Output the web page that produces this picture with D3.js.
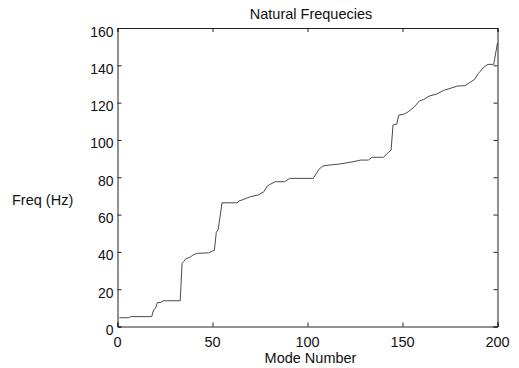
<!DOCTYPE html>
<html>
<head>
<meta charset="utf-8">
<script src="https://cdn.jsdelivr.net/npm/d3@7"></script>
<style>
  body { margin: 0; background: #fff; }
  text { font-family: "Liberation Sans", Arial, sans-serif; fill: #111; }
</style>
</head>
<body>
<svg id="chart"></svg>
<script>
// mode number breakpoints and frequency
const modes = [1, 6, 7, 18, 19, 20, 21, 23, 24, 33, 34, 35, 36, 38, 40, 42, 48, 50, 51, 52, 53, 55,
  63, 64, 66, 70, 74, 77, 79, 80, 83, 88, 90, 91, 103, 106, 108, 112, 117, 124, 128, 132, 134,
  140, 142, 144, 145, 147, 148, 151, 153, 156, 159, 161, 164, 168, 172, 175, 179, 183, 186,
  188, 190, 193, 195, 198, 200];
const freqs = [4.7, 4.7, 5.3, 5.3, 9.0, 9.7, 12.8, 13.0, 13.8, 13.8, 33.9, 35.0, 36.4, 37.0, 38.5,
  39.2, 39.5, 40.5, 40.8, 50.5, 52.0, 66.3, 66.3, 67.3, 68.0, 69.6, 70.5, 72.2, 75.5, 76.0, 77.6,
  77.6, 79.0, 79.4, 79.4, 84.2, 86.0, 86.6, 87.1, 88.3, 89.2, 89.2, 90.7, 90.7, 92.8, 94.6, 108,
  108.5, 113.3, 113.9, 115.1, 117.5, 121, 121.6, 123.5, 124.6, 126.7, 127.6, 128.9, 129.1, 131.2,
  132.5, 135.7, 139.2, 140.5, 140.5, 152];
const xTicks = [0, 50, 100, 150, 200];
const yTicks = [0, 20, 40, 60, 80, 100, 120, 140, 160];

const W = 519, H = 368;
const pL = 117.5, pR = 497.5, pT = 28, pB = 326.5;

const svg = d3.select("#chart").attr("width", W).attr("height", H);

const x = d3.scaleLinear().domain([0, 200]).range([pL, pR]);
const y = d3.scaleLinear().domain([0, 160]).range([pB, pT]);

// curve
const data = modes.map((m, i) => [m, freqs[i]]);
svg.append("path")
  .datum(data)
  .attr("fill", "none")
  .attr("stroke", "#4a4a4a")
  .attr("stroke-width", 1)
  .attr("d", d3.line().x(d => x(d[0])).y(d => y(d[1])));

// box + inward ticks on all four sides
const tick = 4;
svg.append("g").attr("transform", `translate(0,${pB})`)
  .call(d3.axisBottom(x).tickValues(xTicks).tickSize(-tick).tickFormat(""));
svg.append("g").attr("transform", `translate(0,${pT})`)
  .call(d3.axisTop(x).tickValues(xTicks).tickSize(-tick).tickFormat(""));
svg.append("g").attr("transform", `translate(${pL},0)`)
  .call(d3.axisLeft(y).tickValues(yTicks).tickSize(-tick).tickFormat(""));
svg.append("g").attr("transform", `translate(${pR},0)`)
  .call(d3.axisRight(y).tickValues(yTicks).tickSize(-tick).tickFormat(""));
svg.selectAll(".domain").attr("stroke", "#222");
svg.selectAll(".tick line").attr("stroke", "#222");

// tick labels
svg.append("g").selectAll("text")
  .data(xTicks)
  .join("text")
  .attr("x", d => x(d))
  .attr("y", pB + 20.5)
  .attr("text-anchor", "middle")
  .style("font-size", "14.5px")
  .text(d => d);

svg.append("g").selectAll("text")
  .data(yTicks)
  .join("text")
  .attr("x", pL - 4)
  .attr("y", d => y(d) + 8.5)
  .attr("text-anchor", "end")
  .style("font-size", "14px")
  .text(d => d);

// titles
svg.append("text")
  .attr("x", 311)
  .attr("y", 18.5)
  .attr("text-anchor", "middle")
  .style("font-size", "14.5px")
  .text("Natural Frequecies");

svg.append("text")
  .attr("x", (pL + pR) / 2 + 3)
  .attr("y", 363)
  .attr("text-anchor", "middle")
  .style("font-size", "14.5px")
  .text("Mode Number");

svg.append("text")
  .attr("x", 12)
  .attr("y", 205)
  .style("font-size", "14.5px")
  .text("Freq (Hz)");
</script>
</body>
</html>
